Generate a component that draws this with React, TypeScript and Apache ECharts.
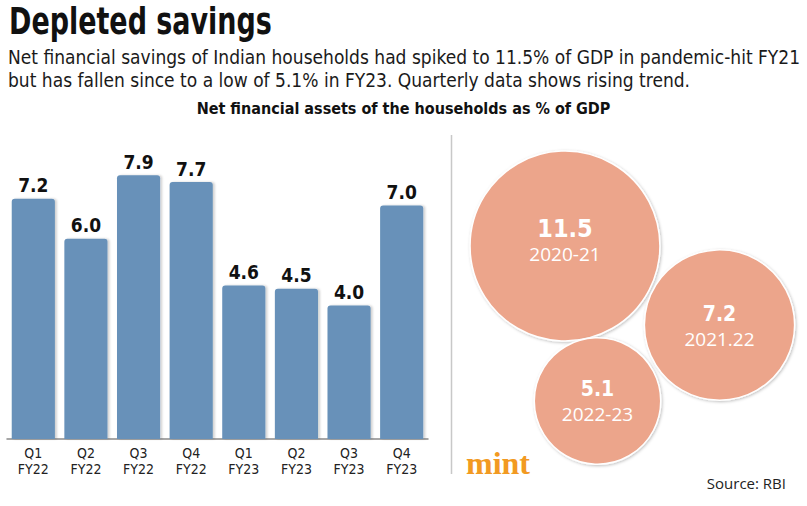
import React, { useEffect, useRef } from "react";
import * as echarts from "echarts";

const quarters = ["Q1\nFY22", "Q2\nFY22", "Q3\nFY22", "Q4\nFY22", "Q1\nFY23", "Q2\nFY23", "Q3\nFY23", "Q4\nFY23"];
const savingsPct = [7.2, 6.0, 7.9, 7.7, 4.6, 4.5, 4.0, 7.0];
const years = ["2020-21", "2021.22", "2022-23"];
const annualPct = [11.5, 7.2, 5.1];
// layout of the packed bubbles (pixel space of the right-hand panel)
const bubbleCenters = [
  [565, 246],
  [719.5, 325],
  [597.5, 401],
];
const bubbleLabelShift = [-6, 1, 0];

const NARROW = '"DejaVu Sans Condensed", "Liberation Sans Narrow", sans-serif';
const OPEN = '"Open Sans", "Noto Sans", sans-serif';

export default function App() {
  const ref = useRef<HTMLDivElement>(null);
  useEffect(() => {
    if (!ref.current) return;
    const chart = echarts.init(ref.current, null, { renderer: "svg" });
    const option: any = {
      animation: false,
      backgroundColor: "#ffffff",
      title: [
        {
          text:
            "Net financial savings of Indian households had spiked to 11.5% of GDP in pandemic-hit FY21\nbut has fallen since to a low of 5.1% in FY23. Quarterly data shows rising trend.",
          left: 3,
          top: 40,
          textStyle: { fontFamily: NARROW, fontWeight: "normal", fontSize: 19, lineHeight: 23, color: "#1a1a1a" },
        },
        {
          text: "Net financial assets of the households as % of GDP",
          left: "center",
          top: 95,
          textStyle: { fontFamily: NARROW, fontWeight: "bold", fontSize: 16, color: "#111" },
        },
      ],
      grid: [
        { left: 7, top: 172, width: 421, height: 267, containLabel: false },
        { left: 0, top: 0, width: 807, height: 506, containLabel: false },
      ],
      xAxis: [
        {
          type: "category",
          gridIndex: 0,
          data: quarters,
          axisLine: { lineStyle: { color: "#8a8a8a", width: 1.5 } },
          axisTick: { show: false },
          axisLabel: {
            margin: 6,
            fontFamily: NARROW,
            fontSize: 14,
            lineHeight: 16,
            color: "#222",
            interval: 0,
          },
        },
        { type: "value", gridIndex: 1, min: 0, max: 807, show: false },
      ],
      yAxis: [
        { type: "value", gridIndex: 0, min: 0, max: 8, show: false, splitLine: { show: false } },
        { type: "value", gridIndex: 1, min: 0, max: 506, inverse: true, show: false, splitLine: { show: false } },
      ],
      series: [
        {
          type: "bar",
          xAxisIndex: 0,
          yAxisIndex: 0,
          data: savingsPct,
          barCategoryGap: "18%",
          itemStyle: {
            color: "#6791b9",
            borderRadius: [3, 3, 0, 0],
            shadowColor: "rgba(0,0,0,0.18)",
            shadowBlur: 2,
            shadowOffsetX: 2,
            shadowOffsetY: 0,
          },
          label: {
            show: true,
            position: "top",
            distance: 4,
            formatter: (p: any) => Number(p.value).toFixed(1),
            fontFamily: NARROW,
            fontWeight: "bold",
            fontSize: 19,
            color: "#111",
          },
        },
        {
          type: "scatter",
          xAxisIndex: 1,
          yAxisIndex: 1,
          symbol: "circle",
          symbolSize: (val: number[]) => Math.sqrt(val[2]) * 56,
          itemStyle: {
            color: "#eca58b",
            opacity: 1,
            borderColor: "#ffffff",
            borderWidth: 1.5,
            shadowColor: "rgba(0,0,0,0.25)",
            shadowBlur: 3,
            shadowOffsetX: 1,
            shadowOffsetY: 1,
          },
          data: annualPct.map((v, i) => ({
            name: years[i],
            value: [bubbleCenters[i][0], bubbleCenters[i][1], v],
            label: {
              offset: [0, bubbleLabelShift[i]],
              rich: {
                v: { fontSize: i === 0 ? 25 : 21, lineHeight: i === 0 ? 28 : 26 },
              },
            },
          })),
          label: {
            show: true,
            position: "inside",
            formatter: (p: any) => `{v|${Number(p.value[2]).toFixed(1)}}\n{y|${p.name}}`,
            rich: {
              v: { fontFamily: NARROW, fontWeight: "bold", color: "#ffffff", fontSize: 21, lineHeight: 26, align: "center" },
              y: { fontFamily: OPEN, color: "#ffffff", fontSize: 19, lineHeight: 24, align: "center" },
            },
          },
        },
      ],
      graphic: [
        {
          type: "text",
          x: 9,
          y: 21,
          scaleX: 0.81,
          style: {
            text: "Depleted savings",
            font: 'bold 37px "DejaVu Sans Condensed", sans-serif',
            fill: "#111",
            verticalAlign: "middle",
          },
        },
        {
          type: "line",
          shape: { x1: 451.5, y1: 135, x2: 451.5, y2: 474 },
          style: { stroke: "#c8c8c8", lineWidth: 1.5 },
        },
        {
          type: "text",
          x: 466,
          y: 447,
          style: {
            text: "mint",
            font: 'bold 32px "Liberation Serif", "DejaVu Serif", serif',
            fill: "#f29a22",
            verticalAlign: "top",
          },
        },
        {
          type: "text",
          x: 786,
          y: 483,
          style: {
            text: "Source: RBI",
            font: '15px "Open Sans", sans-serif',
            fill: "#222",
            align: "right",
            verticalAlign: "middle",
          },
        },
      ],
    };
    chart.setOption(option);
    return () => chart.dispose();
  }, []);
  return <div ref={ref} style={{ position: "fixed", left: 0, top: 0, width: 807, height: 506 }} />;
}
